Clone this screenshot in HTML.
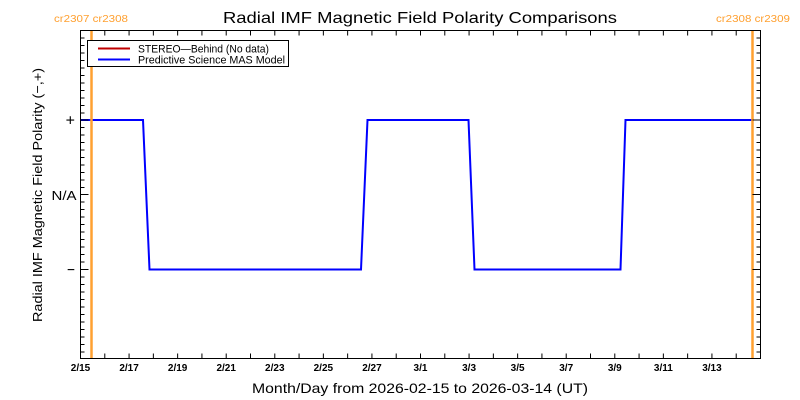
<!DOCTYPE html>
<html><head><meta charset="utf-8"><style>
html,body{margin:0;padding:0;background:#fff;}
svg{display:block;}
text{font-family:"Liberation Sans",sans-serif;}
</style></head><body>
<svg width="800" height="400" viewBox="0 0 800 400" xmlns="http://www.w3.org/2000/svg">
<rect width="800" height="400" fill="#fff"/>
<!-- title -->
<text x="420" y="23" font-size="16" text-anchor="middle" textLength="394" lengthAdjust="spacingAndGlyphs" fill="#000">Radial IMF Magnetic Field Polarity Comparisons</text>
<!-- cr labels -->
<text x="91" y="22" font-size="10.5" text-anchor="middle" textLength="74" lengthAdjust="spacingAndGlyphs" fill="#ffa030">cr2307 cr2308</text>
<text x="753" y="22" font-size="10.5" text-anchor="middle" textLength="74" lengthAdjust="spacingAndGlyphs" fill="#ffa030">cr2308 cr2309</text>
<!-- blue series -->
<path d="M80.5,120 H143 L149.5,269.5 H361 L367.5,120 H468.5 L474.5,269.5 H620.5 L625.5,120 H753" fill="none" stroke="#0000ff" stroke-width="2"/>
<!-- orange lines -->
<line x1="91.5" y1="31" x2="91.5" y2="358" stroke="#ffa030" stroke-width="2.5"/>
<line x1="752.5" y1="31" x2="752.5" y2="358" stroke="#ffa030" stroke-width="2.5"/>
<!-- frame -->
<rect x="80.5" y="30.5" width="680" height="328" fill="none" stroke="#000" stroke-width="1"/>
<g stroke="#000" stroke-width="1">
<path d="M80.5,358.5v-5M104.79,358.5v-5M129.07,358.5v-5M153.36,358.5v-5M177.64,358.5v-5M201.93,358.5v-5M226.21,358.5v-5M250.5,358.5v-5M274.79,358.5v-5M299.07,358.5v-5M323.36,358.5v-5M347.64,358.5v-5M371.93,358.5v-5M396.21,358.5v-5M420.5,358.5v-5M444.79,358.5v-5M469.07,358.5v-5M493.36,358.5v-5M517.64,358.5v-5M541.93,358.5v-5M566.21,358.5v-5M590.5,358.5v-5M614.79,358.5v-5M639.07,358.5v-5M663.36,358.5v-5M687.64,358.5v-5M711.93,358.5v-5M736.21,358.5v-5"/>
<path d="M80.5,30.5v5M104.79,30.5v5M129.07,30.5v5M153.36,30.5v5M177.64,30.5v5M201.93,30.5v5M226.21,30.5v5M250.5,30.5v5M274.79,30.5v5M299.07,30.5v5M323.36,30.5v5M347.64,30.5v5M371.93,30.5v5M396.21,30.5v5M420.5,30.5v5M444.79,30.5v5M469.07,30.5v5M493.36,30.5v5M517.64,30.5v5M541.93,30.5v5M566.21,30.5v5M590.5,30.5v5M614.79,30.5v5M639.07,30.5v5M663.36,30.5v5M687.64,30.5v5M711.93,30.5v5M736.21,30.5v5"/>
<path d="M80.5,38h4M80.5,45.5h4M80.5,53h4M80.5,60.5h4M80.5,68h4M80.5,75.5h4M80.5,83h4M80.5,90.5h4M80.5,98h4M80.5,105.5h4M80.5,113h4M80.5,120h8M80.5,127.5h4M80.5,135h4M80.5,142.5h4M80.5,150h4M80.5,157.5h4M80.5,165h4M80.5,172.5h4M80.5,180h4M80.5,187.5h4M80.5,194.5h8M80.5,202h4M80.5,209.5h4M80.5,217h4M80.5,224.5h4M80.5,232h4M80.5,239.5h4M80.5,247h4M80.5,254.5h4M80.5,262h4M80.5,269.5h8M80.5,277h4M80.5,284.5h4M80.5,292h4M80.5,299.5h4M80.5,307h4M80.5,314.5h4M80.5,322h4M80.5,329.5h4M80.5,337h4M80.5,344.5h4M80.5,352h4"/>
<path d="M760.5,38h-4M760.5,45.5h-4M760.5,53h-4M760.5,60.5h-4M760.5,68h-4M760.5,75.5h-4M760.5,83h-4M760.5,90.5h-4M760.5,98h-4M760.5,105.5h-4M760.5,113h-4M760.5,120h-8M760.5,127.5h-4M760.5,135h-4M760.5,142.5h-4M760.5,150h-4M760.5,157.5h-4M760.5,165h-4M760.5,172.5h-4M760.5,180h-4M760.5,187.5h-4M760.5,194.5h-8M760.5,202h-4M760.5,209.5h-4M760.5,217h-4M760.5,224.5h-4M760.5,232h-4M760.5,239.5h-4M760.5,247h-4M760.5,254.5h-4M760.5,262h-4M760.5,269.5h-8M760.5,277h-4M760.5,284.5h-4M760.5,292h-4M760.5,299.5h-4M760.5,307h-4M760.5,314.5h-4M760.5,322h-4M760.5,329.5h-4M760.5,337h-4M760.5,344.5h-4M760.5,352h-4"/>
</g>
<!-- legend -->
<rect x="87.5" y="40.5" width="201" height="26" fill="#fff" stroke="#000" stroke-width="1"/>
<line x1="98" y1="48.5" x2="130" y2="48.5" stroke="#c00000" stroke-width="2"/>
<line x1="98" y1="59.5" x2="130" y2="59.5" stroke="#0000ff" stroke-width="2"/>
<text x="138" y="52.5" font-size="11" textLength="131" lengthAdjust="spacingAndGlyphs" fill="#000">STEREO—Behind (No data)</text>
<text x="138" y="63.5" font-size="11" textLength="147" lengthAdjust="spacingAndGlyphs" fill="#000">Predictive Science MAS Model</text>
<!-- y tick labels -->
<text x="75" y="125.5" font-size="16" text-anchor="end" fill="#000">+</text>
<text x="76.5" y="200" font-size="12.5" text-anchor="end" textLength="25" lengthAdjust="spacingAndGlyphs" fill="#000">N/A</text>
<text x="75" y="275" font-size="16" text-anchor="end" textLength="8" lengthAdjust="spacingAndGlyphs" fill="#000">−</text>
<!-- y axis title -->
<text transform="translate(42,195) rotate(-90)" x="0" y="0" font-size="13" text-anchor="middle" textLength="254" lengthAdjust="spacingAndGlyphs" fill="#000">Radial IMF Magnetic Field Polarity (−,+)</text>
<!-- x tick labels -->
<g font-size="10" font-weight="bold" text-anchor="middle" fill="#000">
<text x="80.5" y="371">2/15</text>
<text x="129.07" y="371">2/17</text>
<text x="177.64" y="371">2/19</text>
<text x="226.21" y="371">2/21</text>
<text x="274.79" y="371">2/23</text>
<text x="323.36" y="371">2/25</text>
<text x="371.93" y="371">2/27</text>
<text x="420.5" y="371">3/1</text>
<text x="469.07" y="371">3/3</text>
<text x="517.64" y="371">3/5</text>
<text x="566.21" y="371">3/7</text>
<text x="614.79" y="371">3/9</text>
<text x="663.36" y="371">3/11</text>
<text x="711.93" y="371">3/13</text>
</g>
<!-- x axis title -->
<text x="420" y="393" font-size="14" text-anchor="middle" textLength="336" lengthAdjust="spacingAndGlyphs" fill="#000">Month/Day from 2026-02-15 to 2026-03-14 (UT)</text>
</svg>
</body></html>
